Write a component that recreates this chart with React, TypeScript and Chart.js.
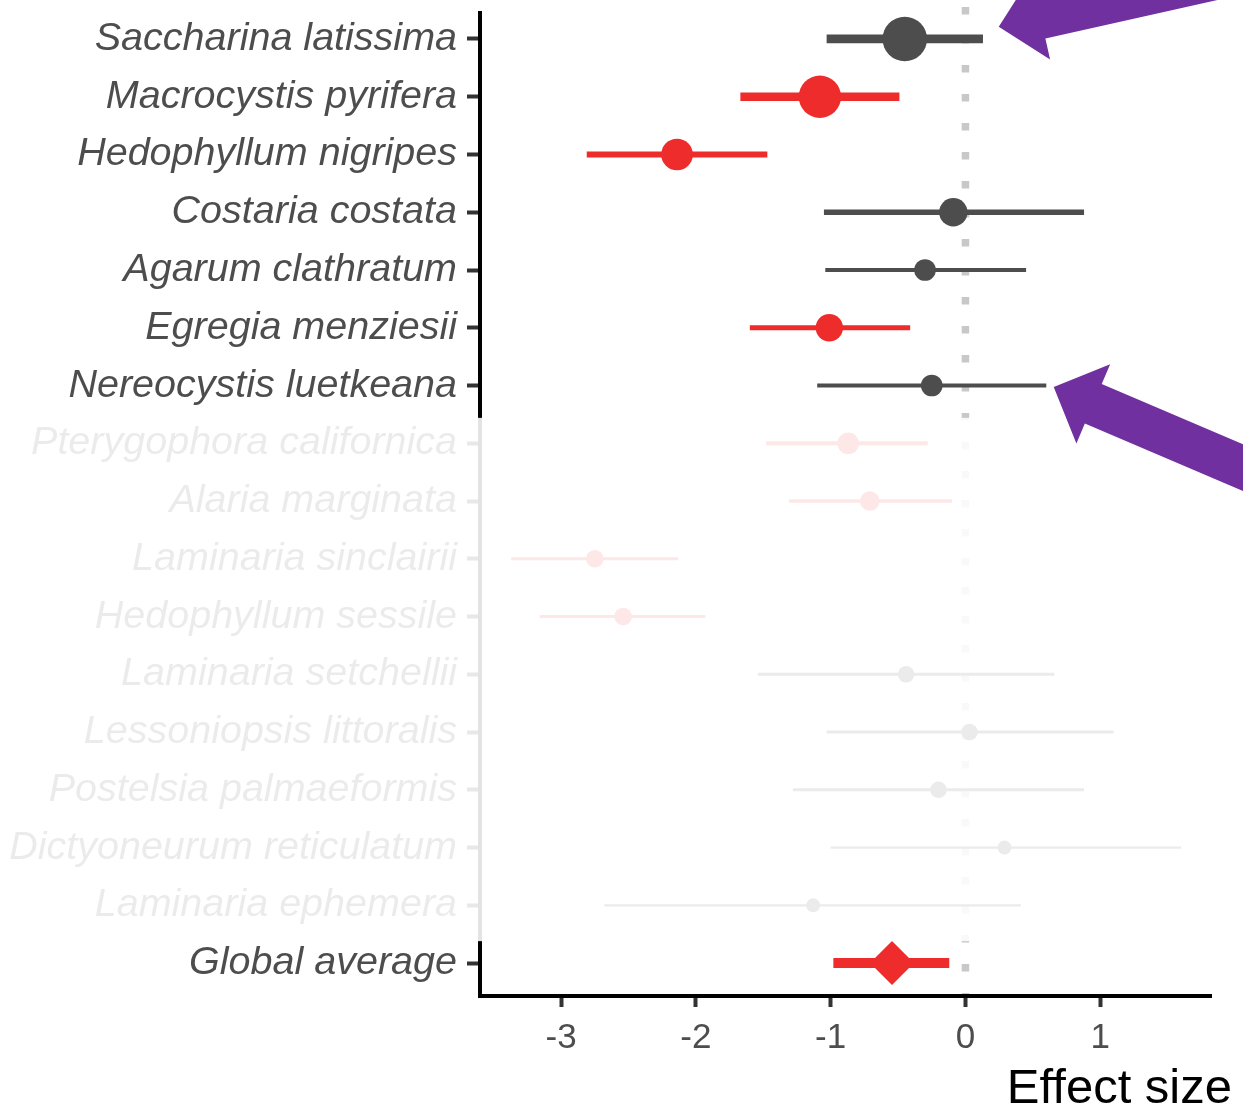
import React, { useEffect, useRef } from "react";
import { Chart, registerables } from "chart.js";

Chart.register(...registerables);

// ---- data ----
const species = [
  "Saccharina latissima",
  "Macrocystis pyrifera",
  "Hedophyllum nigripes",
  "Costaria costata",
  "Agarum clathratum",
  "Egregia menziesii",
  "Nereocystis luetkeana",
  "Pterygophora californica",
  "Alaria marginata",
  "Laminaria sinclairii",
  "Hedophyllum sessile",
  "Laminaria setchellii",
  "Lessoniopsis littoralis",
  "Postelsia palmaeformis",
  "Dictyoneurum reticulatum",
  "Laminaria ephemera",
];
const estimates = [-0.45, -1.08, -2.14, -0.09, -0.3, -1.01, -0.25, -0.87, -0.71, -2.75, -2.54, -0.44, 0.03, -0.2, 0.29, -1.13];
const lowerCI = [-1.03, -1.67, -2.81, -1.05, -1.04, -1.6, -1.1, -1.48, -1.31, -3.37, -3.16, -1.54, -1.03, -1.28, -1.0, -2.68];
const upperCI = [0.13, -0.49, -1.47, 0.88, 0.45, -0.41, 0.6, -0.28, -0.1, -2.13, -1.93, 0.66, 1.1, 0.88, 1.6, 0.41];
const weights = [22.5, 20.3, 11.3, 9.1, 5.3, 8.5, 5.3, 5.3, 4.3, 3.5, 3.5, 3.1, 3.1, 3.1, 2.2, 2.2];
const significant = [false, true, true, false, false, true, false, true, true, true, true, false, false, false, false, false];
const inFocus = [true, true, true, true, true, true, true, false, false, false, false, false, false, false, false, false];

const globalLabel = "Global average";
const globalEstimate = -0.545;
const globalLower = -0.98;
const globalUpper = -0.12;

const xTicks = [-3, -2, -1, 0, 1];
const xTitle = "Effect size";

const arrowTargets = [
  { x: 0.247, y: -0.21, angle: -12.6 },
  { x: 0.655, y: 6.025, angle: 23.1 },
];

// ---- styling ----
const RED = "#EE2C2C";
const GREY = "#4D4D4D";
const FONT = '"Liberation Sans", Arial, Helvetica, sans-serif';

const rowLabels = [...species, globalLabel];
const radiusOf = (w: number) => 4.7 * Math.sqrt(w);
const lineWidthOf = (w: number) => Math.max(2.3, 0.42 * radiusOf(w) - 0.6);

function drawArrow(ctx: CanvasRenderingContext2D, tx: number, ty: number, angleDeg: number) {
  const a = (angleDeg * Math.PI) / 180;
  const du = [Math.cos(a), Math.sin(a)];
  const dv = [-Math.sin(a), Math.cos(a)];
  const headLen = 43;
  const headHalf = 43;
  const shaftHalf = 21.5;
  const shaftLen = 460;
  const pts: [number, number][] = [
    [0, 0],
    [headLen, headHalf],
    [headLen, shaftHalf],
    [shaftLen, shaftHalf],
    [shaftLen, -shaftHalf],
    [headLen, -shaftHalf],
    [headLen, -headHalf],
  ];
  ctx.beginPath();
  pts.forEach(([u, v], i) => {
    const px = tx + u * du[0] + v * dv[0];
    const py = ty + u * du[1] + v * dv[1];
    if (i === 0) ctx.moveTo(px, py);
    else ctx.lineTo(px, py);
  });
  ctx.closePath();
  ctx.fillStyle = "#7030A0";
  ctx.fill();
}

const decorPlugin = {
  id: "decor",
  beforeDatasetsDraw(chart: any) {
    const { ctx, chartArea, scales } = chart;
    const px = scales.x.getPixelForValue(0);
    ctx.save();
    ctx.strokeStyle = "#C8C8C8";
    ctx.lineWidth = 7.5;
    ctx.setLineDash([7.5, 21.5]);
    ctx.beginPath();
    ctx.moveTo(px, chartArea.top - 6);
    ctx.lineTo(px, chartArea.bottom - 2);
    ctx.stroke();
    ctx.restore();
  },
  afterDraw(chart: any) {
    const { ctx, chartArea, scales, width } = chart;
    const first = inFocus.indexOf(false);
    const last = inFocus.lastIndexOf(false);
    ctx.save();
    if (first >= 0) {
      const y0 = scales.y.getPixelForValue(first - 0.44);
      const y1 = scales.y.getPixelForValue(last + 0.62);
      ctx.fillStyle = "rgba(255,255,255,0.89)";
      ctx.fillRect(0, y0, width, y1 - y0);
    }
    arrowTargets.forEach((t) => {
      drawArrow(ctx, scales.x.getPixelForValue(t.x), scales.y.getPixelForValue(t.y), t.angle);
    });
    ctx.font = `49px ${FONT}`;
    ctx.fillStyle = "#000000";
    ctx.textAlign = "right";
    ctx.textBaseline = "alphabetic";
    ctx.fillText(xTitle, chartArea.right + 21, chartArea.bottom + 107);
    ctx.restore();
  },
};

export default function App() {
  const canvasRef = useRef<HTMLCanvasElement | null>(null);

  useEffect(() => {
    if (!canvasRef.current) return;
    const n = species.length;

    const barDatasets: any[] = species.map((_, i) => ({
      type: "line",
      data: [
        { x: lowerCI[i], y: i },
        { x: upperCI[i], y: i },
      ],
      borderColor: significant[i] ? RED : GREY,
      borderWidth: lineWidthOf(weights[i]),
      borderCapStyle: "butt",
      pointRadius: 0,
      showLine: true,
      fill: false,
    }));
    barDatasets.push({
      type: "line",
      data: [
        { x: globalLower, y: n },
        { x: globalUpper, y: n },
      ],
      borderColor: RED,
      borderWidth: 10,
      borderCapStyle: "butt",
      pointRadius: 0,
      showLine: true,
      fill: false,
    });

    const pointDataset: any = {
      type: "scatter",
      data: [...estimates.map((e, i) => ({ x: e, y: i })), { x: globalEstimate, y: n }],
      pointRadius: [...weights.map((w) => radiusOf(w)), 22],
      pointStyle: [...weights.map(() => "circle"), "rectRot"],
      backgroundColor: [...significant.map((s) => (s ? RED : GREY)), RED],
      borderWidth: 0,
      showLine: false,
    };

    const chart = new Chart(canvasRef.current, {
      type: "scatter",
      data: { datasets: [pointDataset, ...barDatasets] },
      plugins: [decorPlugin],
      options: {
        animation: false,
        responsive: false,
        layout: { autoPadding: false, padding: { top: 13, right: 32, left: 0, bottom: 0 } },
        plugins: { legend: { display: false }, tooltip: { enabled: false } },
        scales: {
          x: {
            type: "linear",
            min: -3.602,
            max: 1.822,
            afterBuildTicks: (scale: any) => {
              scale.ticks = xTicks.map((v) => ({ value: v }));
            },
            afterFit: (scale: any) => {
              scale.height = 121;
              scale.paddingLeft = 0;
              scale.paddingRight = 0;
            },
            border: { display: true, color: "#000000", width: 4 },
            grid: { drawOnChartArea: false, drawTicks: true, tickLength: 11, tickWidth: 4, tickColor: "#333333" },
            ticks: {
              color: GREY,
              font: { family: FONT, size: 35 },
              padding: 10,
              callback: (v: any) => String(v),
            },
          },
          y: {
            type: "linear",
            reverse: true,
            min: -0.45,
            max: 16.57,
            afterBuildTicks: (scale: any) => {
              scale.ticks = rowLabels.map((_, i) => ({ value: i }));
            },
            afterFit: (scale: any) => {
              scale.width = 480;
              scale.paddingTop = 0;
              scale.paddingBottom = 0;
            },
            border: { display: true, color: "#000000", width: 4 },
            grid: { drawOnChartArea: false, drawTicks: true, tickLength: 13, tickWidth: 4, tickColor: "#333333" },
            ticks: {
              color: GREY,
              font: { family: FONT, size: 39.5, style: "italic" },
              padding: 10,
              autoSkip: false,
              callback: (v: any) => rowLabels[v as number] ?? "",
            },
          },
        },
      },
    } as any);

    return () => chart.destroy();
  }, []);

  return (
    <div style={{ position: "absolute", left: 0, top: 0, width: 1243, height: 1117, background: "#fff" }}>
      <canvas ref={canvasRef} width={1243} height={1117} style={{ display: "block" }} />
    </div>
  );
}
